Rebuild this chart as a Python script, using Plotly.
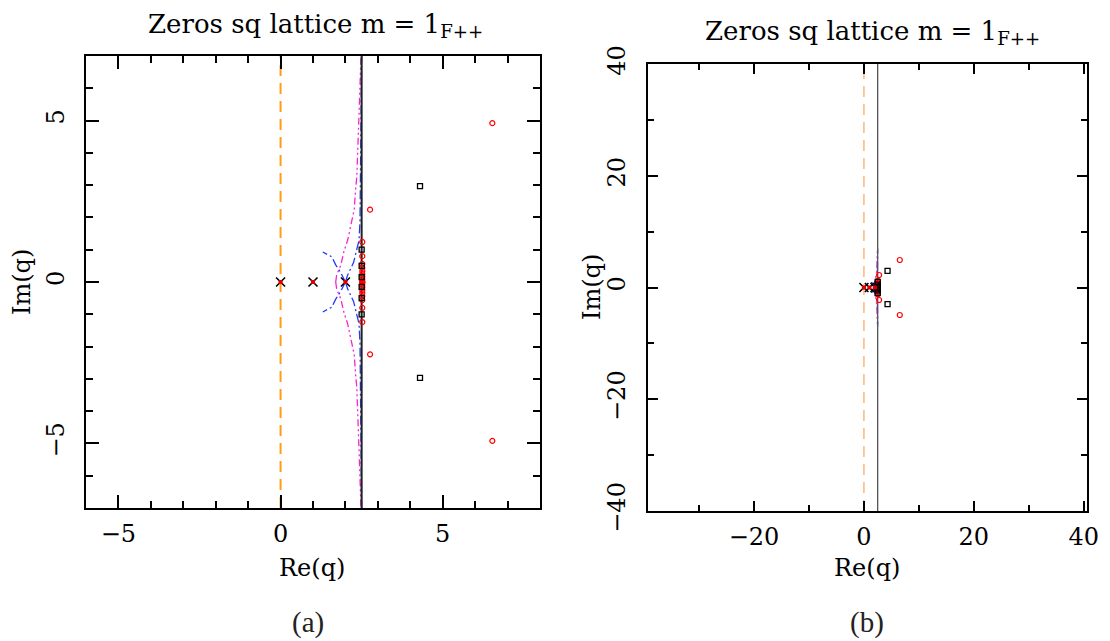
import plotly.graph_objects as go

W, H = 1110, 641

# ---------------- data ----------------
orange_x = [0.0, 0.0]
black_line_x = [2.5, 2.5]

# blue dash-dot curves (upper halves; lower halves mirrored in y)
blue_right_x = [2.0, 2.07, 2.25, 2.42, 2.45, 2.47, 2.49, 2.5]
blue_right_y = [0.0, 0.22, 0.6, 1.3, 1.9, 4.0, 6.0, 7.0]
blue_left_x = [2.0, 1.86, 1.7, 1.58, 1.3]
blue_left_y = [0.0, 0.28, 0.53, 0.78, 0.93]

# magenta dash-dot-dot curves (upper halves)
mag_x = [1.7, 1.73, 1.86, 1.95, 2.07, 2.14, 2.27, 2.32, 2.35, 2.42, 2.48]
mag_y = [0.0, 0.22, 0.53, 0.93, 1.3, 1.6, 2.24, 2.95, 3.25, 5.2, 7.0]

# red open circles (zeros)
red_x = [2.52] * 19 + [2.76, 2.76, 6.53, 6.53]
red_y = [1.24, 0.8, 0.56, 0.44, 0.34, 0.25, 0.17, 0.09, 0.02,
         -0.02, -0.09, -0.17, -0.25, -0.34, -0.44, -0.56, -0.8, -1.24, 0.0,
         2.24, -2.24, 4.92, -4.92]

# black open squares
sq_x = [2.5, 2.5, 2.5, 2.5, 2.5, 2.5, 4.3, 4.3]
sq_y = [1.0, -1.0, 0.5, -0.5, 0.15, -0.15, 2.97, -2.97]

# cross markers on the real axis
cross_x = [0.0, 1.0, 2.0]
cross_y = [0.0, 0.0, 0.0]

FONT = "DejaVu Serif"

fig = go.Figure()


def add_panel(xa, ya, yspan, thin):
    lw = 1.3 if thin else 2
    blue = dict(color="#1f3bff", width=1.3, dash="9px,3px,2px,3px")
    mag = dict(color="#ff20d0", width=1.3, dash="7px,3px,2px,3px,2px,3px")
    for sgn in (1, -1):
        fig.add_trace(go.Scatter(x=mag_x, y=[sgn * v for v in mag_y],
                                 mode="lines", line=mag, xaxis=xa, yaxis=ya, showlegend=False))
        fig.add_trace(go.Scatter(x=blue_right_x, y=[sgn * v for v in blue_right_y],
                                 mode="lines", line=blue, xaxis=xa, yaxis=ya, showlegend=False))
        fig.add_trace(go.Scatter(x=blue_left_x, y=[sgn * v for v in blue_left_y],
                                 mode="lines", line=blue, xaxis=xa, yaxis=ya, showlegend=False))
    fig.add_trace(go.Scatter(x=orange_x, y=[-yspan, yspan], mode="lines",
                             line=dict(color="#ff9c1a" if not thin else "#f7ae66", width=lw,
                                       dash="11px,7px"),
                             xaxis=xa, yaxis=ya, showlegend=False))
    fig.add_trace(go.Scatter(x=black_line_x, y=[-yspan, yspan], mode="lines",
                             line=dict(color="#222" if not thin else "#555", width=lw),
                             xaxis=xa, yaxis=ya, showlegend=False))
    fig.add_trace(go.Scatter(x=red_x, y=red_y, mode="markers",
                             marker=dict(symbol="circle-open", size=5, color="red",
                                         line=dict(width=1.2, color="red")),
                             xaxis=xa, yaxis=ya, showlegend=False))
    fig.add_trace(go.Scatter(x=sq_x, y=sq_y, mode="markers",
                             marker=dict(symbol="square-open", size=5, color="black",
                                         line=dict(width=1.3, color="black")),
                             xaxis=xa, yaxis=ya, showlegend=False))
    fig.add_trace(go.Scatter(x=cross_x, y=cross_y, mode="markers",
                             marker=dict(symbol="x-thin-open", size=9, color="black",
                                         line=dict(width=1.6, color="black")),
                             xaxis=xa, yaxis=ya, showlegend=False))
    fig.add_trace(go.Scatter(x=cross_x, y=cross_y, mode="markers",
                             marker=dict(symbol="square", size=4, color="#e00000"),
                             xaxis=xa, yaxis=ya, showlegend=False))


add_panel("x", "y", 7, False)
add_panel("x2", "y2", 40, True)


def px_x(p):
    return p / W


def px_y(p):
    return 1 - p / H


axis_common = dict(showgrid=False, zeroline=False, showline=True, linecolor="black",
                   linewidth=2, mirror="allticks", ticks="inside", tickcolor="black",
                   tickwidth=2, automargin=False,
                   tickfont=dict(family=FONT, size=24, color="black"))

fig.update_layout(
    width=W, height=H, margin=dict(l=0, r=0, t=0, b=0),
    paper_bgcolor="white", plot_bgcolor="white",
    xaxis=dict(domain=[px_x(86), px_x(540)], range=[-6, 8], anchor="y",
               tickvals=[-5, 0, 5], ticktext=["\u22125", "0", "5"], ticklen=13,
               ticklabelstandoff=3,
               minor=dict(dtick=1, ticklen=7, tickwidth=2, tickcolor="black", ticks="inside"),
               **axis_common),
    yaxis=dict(domain=[px_y(508), px_y(56)], range=[-7, 7], anchor="x",
               tickvals=[-5, 0, 5], ticktext=["\u22125", "0", "5"], ticklen=13, tickangle=-90,
               ticklabelstandoff=10,
               minor=dict(dtick=1, ticklen=7, tickwidth=2, tickcolor="black", ticks="inside"),
               **axis_common),
    xaxis2=dict(domain=[px_x(648), px_x(1087)], range=[-39.3, 40.6], anchor="y2",
                tickvals=[-20, 0, 20, 40], ticktext=["\u221220", "0", "20", "40"], ticklen=10,
                ticklabelstandoff=3,
                minor=dict(dtick=10, ticklen=6, tickwidth=2, tickcolor="black", ticks="inside"),
                **axis_common),
    yaxis2=dict(domain=[px_y(511), px_y(64)], range=[-40, 40], anchor="x2",
                tickvals=[-40, -20, 0, 20, 40], ticktext=["\u221240", "\u221220", "0", "20", "40"],
                ticklen=10, tickangle=-90, ticklabelstandoff=11,
                minor=dict(dtick=10, ticklen=6, tickwidth=2, tickcolor="black", ticks="inside"),
                **axis_common),
)

ann_font = dict(family=FONT, size=24, color="black")
title_font = dict(family=FONT, size=26, color="black")
title_txt = "Zeros sq lattice m = 1<sub>F++</sub>"
annots = [
    (315, 25, title_txt, 0, title_font),
    (872, 33, title_txt, 0, title_font),
    (312, 568, "Re(q)", 0, ann_font),
    (867, 568, "Re(q)", 0, ann_font),
    (22, 282, "Im(q)", -90, ann_font),
    (592, 287, "Im(q)", -90, ann_font),
]
for x, y, t, ang, f in annots:
    fig.add_annotation(x=px_x(x), y=px_y(y), xref="paper", yref="paper", text=t,
                       showarrow=False, textangle=ang, font=f,
                       xanchor="center", yanchor="middle")
for x, t in [(308, "(a)"), (867, "(b)")]:
    fig.add_annotation(x=px_x(x), y=px_y(622), xref="paper", yref="paper", text=t,
                       showarrow=False, font=dict(family="Liberation Serif", size=29, color="#222"),
                       xanchor="center", yanchor="middle")

fig.write_html("out.html")
